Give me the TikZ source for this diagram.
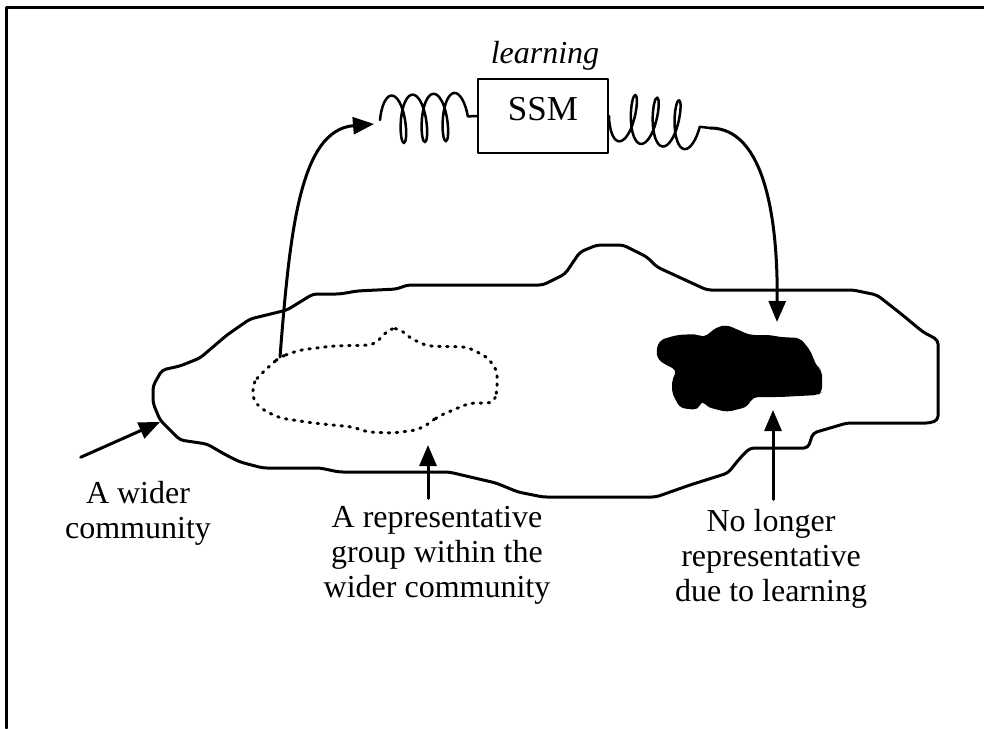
\documentclass[tikz,border=0pt]{standalone}
\usepackage{fontspec}
\setmainfont{Liberation Serif}
\usetikzlibrary{calc,arrows.meta,decorations.pathmorphing}
\newcommand{\Unit}{1pt}
\tikzset{Label/.style={
    inner sep=0pt,
    align=center,
    font=\fontsize{32}{35}\selectfont,
    }
}

\begin{document}
\begin{tikzpicture}[x=\Unit,y=-\Unit, line width=3pt,
    line cap=round, line join=round,
    Tip/.style={-{Triangle[length=21pt,width=17pt]}},
    Spring/.style={line width=2.5pt, decorate,
        decoration={coil, amplitude=24pt, segment length=21pt, aspect=0.3}},
    Group/.style={line width=3pt, dash pattern=on 1.5pt off 6.5pt},
    Box/.style={draw, line width=2pt, inner sep=0pt,
        minimum width=130pt, minimum height=74pt, text depth=15pt,
        font=\fontsize{35}{40}\selectfont},
]
\useasboundingbox (0,0) rectangle (984,728);
% frame
\draw (984,7) -| (6,728);

% the wider community
\draw[rounded corners=4pt] (153,403) -- (153,386) -- (162,370) -- (180,366)
    -- (200,358) -- (227,335) -- (250,319) -- (287,310) -- (313,294)
    -- (340,294) -- (357,291) -- (397,289) -- (407,285) -- (543,285)
    -- (565,274) -- (580,252) -- (597,245) -- (623,245) -- (633,250)
    -- (647,257) -- (657,267) -- (707,290) -- (853,290) -- (877,295)
    -- (900,313) -- (923,332) -- (938,340) -- (938,420) -- (930,423)
    -- (847,423) -- (813,433) -- (808,448) -- (750,448) -- (740,458)
    -- (728,473) -- (690,485) -- (656,497) -- (543,497) -- (518,492)
    -- (496,483) -- (449,472) -- (339,472) -- (320,468) -- (263,468)
    -- (240,462) -- (226,455) -- (207,444) -- (180,440) -- (172,432)
    -- (160,420) -- cycle;

% representative group
\draw[Group, rounded corners=6pt] (280,357) -- (300,350) -- (333,346)
    -- (373,345) -- (382,337) -- (390,328) -- (400,329) -- (410,338)
    -- (427,346) -- (467,347) -- (487,357) -- (497,370) -- (497,393)
    -- (493,403) -- (470,403) -- (453,410) -- (437,417) -- (430,423)
    -- (417,430) -- (393,433) -- (367,432) -- (353,427) -- (313,423)
    -- (280,418) -- (263,410) -- (253,400) -- (253,383) -- (260,375)
    -- (273,363) -- cycle;

% the part that has moved on
\fill[rounded corners=5pt] (660,340) -- (677,335) -- (697,334) -- (703,338)
    -- (717,327) -- (727,325) -- (743,332) -- (750,335) -- (770,335)
    -- (780,337) -- (800,338) -- (810,350) -- (817,367) -- (822,370)
    -- (822,392) -- (818,395) -- (780,397) -- (753,397) -- (747,407)
    -- (727,412) -- (707,407) -- (702,400) -- (698,410) -- (680,408)
    -- (672,393) -- (672,380) -- (677,370) -- (670,367) -- (658,360)
    -- (656,350) -- cycle;

\coordinate (grpStart) at (280,357);
\coordinate (lcoil) at (380,120);
\coordinate (rcoil) at (710,128);
\coordinate (blobTop) at (777,322);
\coordinate (blobBot) at (773,410);
\coordinate (grpBot) at (428,445);
\coordinate (edge) at (160,422);

\node[Box] (ssm) at (543,116) {SSM};
\node[Label, anchor=base] (learn) at (545,63) {\itshape learning};

\draw[Spring] (lcoil) -- (ssm.west);
\draw[Spring, decoration={mirror, segment length=22pt}] (ssm.east) -- (rcoil);

\draw[Tip] (grpStart) .. controls (290,230) and (300,130) .. ($(lcoil)+(-6,4)$);
\draw[Tip] (rcoil) .. controls (765,128) and (778,220) .. (blobTop);

\node[Label, anchor=base] (wider) at (138,538) {A wider\\community};
\node[Label, anchor=base] (group) at (437,597) {A representative\\group within the\\wider community};
\node[Label, anchor=base] (nolonger) at (771,601) {No longer\\representative\\due to learning};

\draw[Tip] ($(wider.north west)+(17,-22)$) -- (edge);
\draw[Tip] ($(group.north -| grpBot)+(0,-6)$) -- (grpBot);
\draw[Tip] ($(nolonger.north -| blobBot)+(0,-8)$) -- (blobBot);
\end{tikzpicture}
\end{document}
